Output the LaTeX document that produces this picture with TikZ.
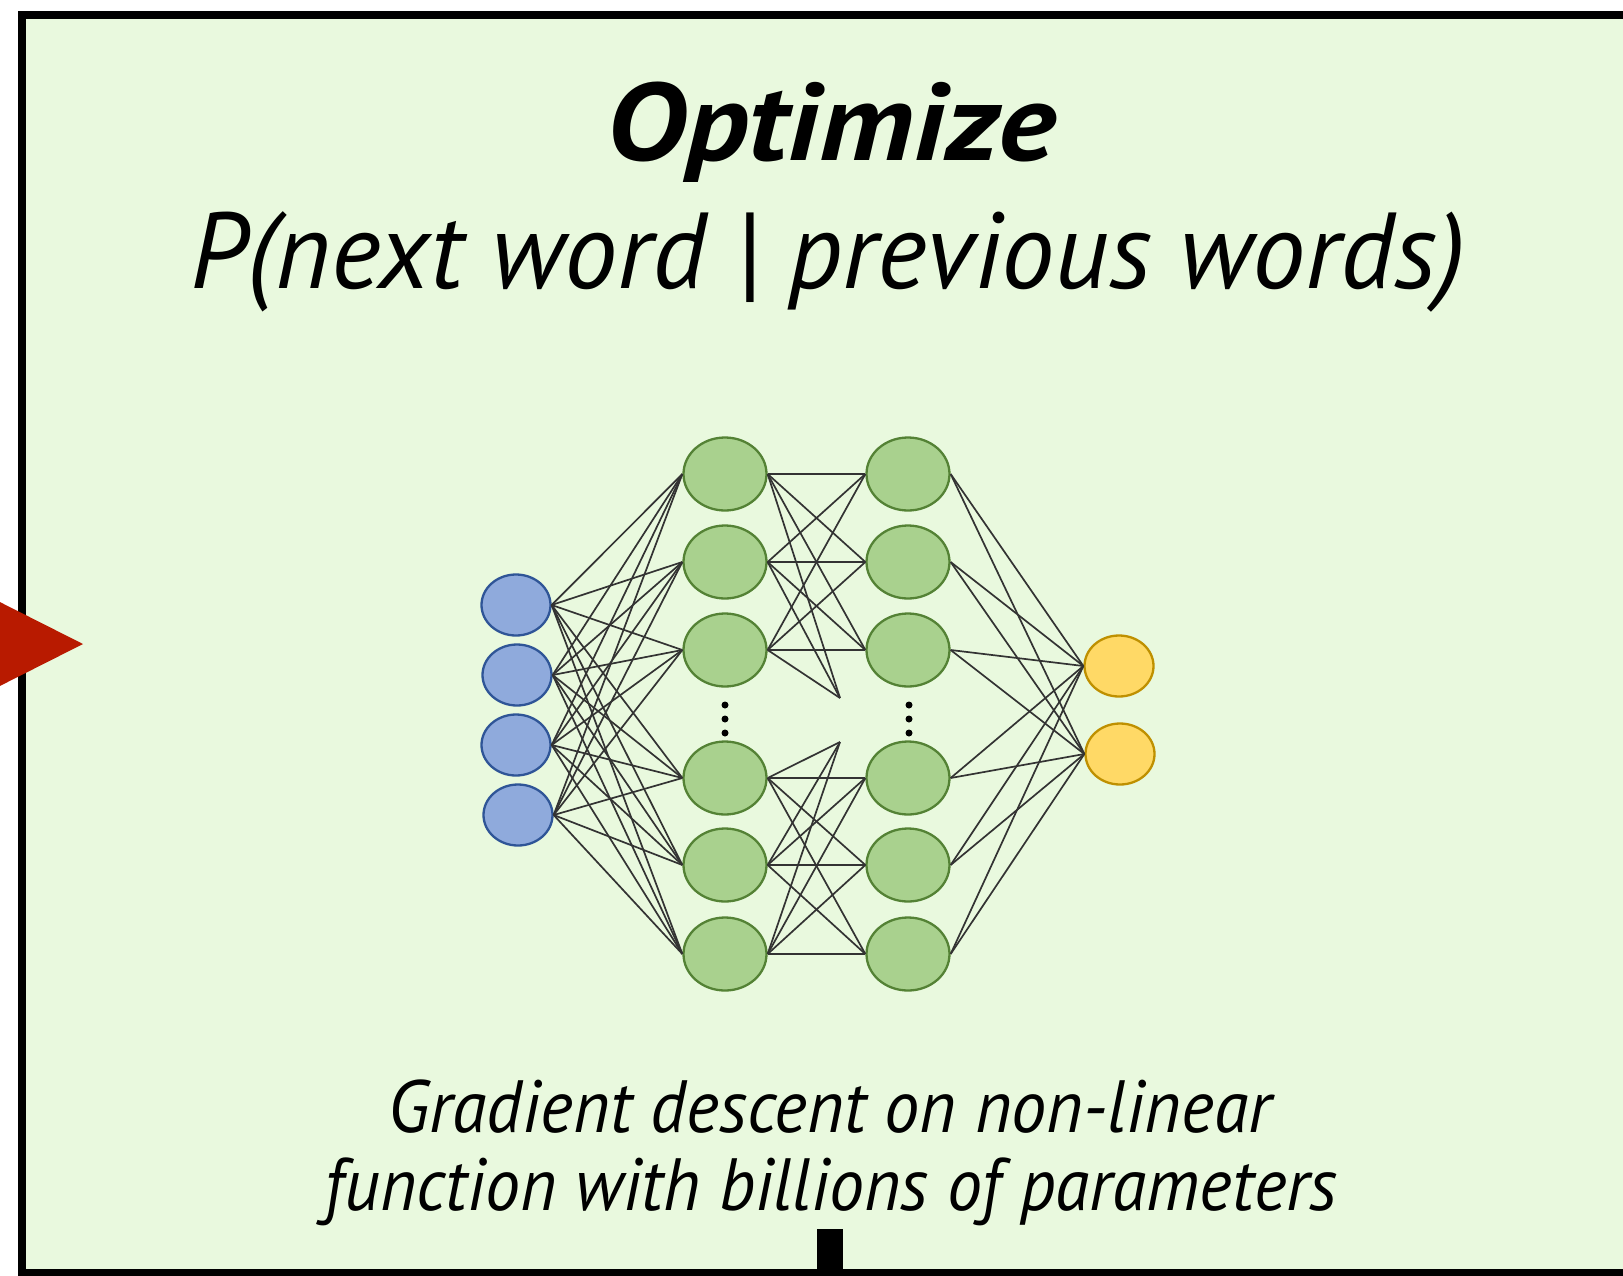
\documentclass[tikz,border=0pt]{standalone}
\usepackage{fontspec}
\usepackage{graphicx}
\setmainfont{PT Sans}
\usetikzlibrary{shapes.geometric}
\definecolor{bg}{RGB}{233,249,222}
\definecolor{redtri}{RGB}{184,26,0}
\definecolor{bluefill}{RGB}{143,170,220}
\definecolor{blueline}{RGB}{47,85,151}
\definecolor{greenfill}{RGB}{169,209,142}
\definecolor{greenline}{RGB}{84,130,53}
\definecolor{yelfill}{RGB}{255,217,102}
\definecolor{yelline}{RGB}{191,144,0}
\tikzset{
  neuron/.style={ellipse, draw, line width=2.3pt, inner sep=0pt},
  inneur/.style={neuron, fill=bluefill, draw=blueline, minimum width=69pt, minimum height=61pt},
  hidneur/.style={neuron, fill=greenfill, draw=greenline, minimum width=83pt, minimum height=73pt},
  outneur/.style={neuron, fill=yelfill, draw=yelline, minimum width=69pt, minimum height=61pt},
  wire/.style={draw=black!80, line width=1.7pt},
  dotnode/.style={circle, fill=black, inner sep=0pt, minimum size=7pt},
  titletext/.style={anchor=base, font=\fontsize{110}{115}\selectfont\bfseries\itshape},
  probtext/.style={anchor=base, font=\fontsize{108}{120}\selectfont\itshape},
  captext/.style={anchor=base, font=\fontsize{74}{80}\selectfont\itshape},
}
\begin{document}
\begin{tikzpicture}[x=1pt,y=-1pt]
\useasboundingbox (0,0) rectangle (1623,1275);
\fill[white] (0,0) rectangle (1623,1275);
\begin{scope}
\clip (0,0) rectangle (1623,1275);
\draw[line width=8pt, fill=bg] (22,14.5) rectangle (1650,1273);
\fill[black] (817,1229) rectangle (843,1280);
\fill[redtri] (-20,592) -- (83,644) -- (-20,696) -- cycle;
\end{scope}

% texts
\node[titletext] (title) at (831,160) {\scalebox{1.12}[1]{Optimize}};
\node[probtext] (prob) at (828,288) {\scalebox{0.985}[1]{P(next word | previous words)}};
\node[captext] (cap1) at (830,1132) {\scalebox{0.95}[1]{Gradient descent on non-linear}};
\node[captext] (cap2) at (831,1210) {\scalebox{0.944}[1]{function with billions of parameters}};

% convergence points of the elided neurons
\coordinate (gapT) at (840,698);
\coordinate (gapB) at (840,742);

% nodes
\node[inneur] (i1) at (516,605) {};
\node[inneur] (i2) at (517,675) {};
\node[inneur] (i3) at (516,745) {};
\node[inneur] (i4) at (518,815) {};
\foreach \k/\yy in {1/474,2/562,3/650,4/778,5/865,6/954}{
  \node[hidneur] (a\k) at (725,\yy) {};
  \node[hidneur] (b\k) at (908,\yy) {};
}
\node[outneur] (o1) at (1119,666) {};
\node[outneur] (o2) at (1120,754) {};
\foreach \d/\yy in {1/705,2/719,3/733}{
  \node[dotnode] (adot\d) at (725,\yy) {};
  \node[dotnode] (bdot\d) at (909,\yy) {};
}

% connections
\foreach \i in {1,...,4}{
  \foreach \k in {1,...,6}{
    \draw[wire] (i\i.east) -- (a\k.west);
  }
}
\foreach \k in {1,2,3}{
  \foreach \m in {1,2,3}{
    \draw[wire] (a\k.east) -- (b\m.west);
  }
  \draw[wire] (a\k.east) -- (gapT);
}
\foreach \k in {4,5,6}{
  \foreach \m in {4,5,6}{
    \draw[wire] (a\k.east) -- (b\m.west);
  }
  \draw[wire] (a\k.east) -- (gapB);
}
\foreach \k in {1,...,6}{
  \draw[wire] (b\k.east) -- (o1.west);
  \draw[wire] (b\k.east) -- (o2.west);
}
\end{tikzpicture}
\end{document}
